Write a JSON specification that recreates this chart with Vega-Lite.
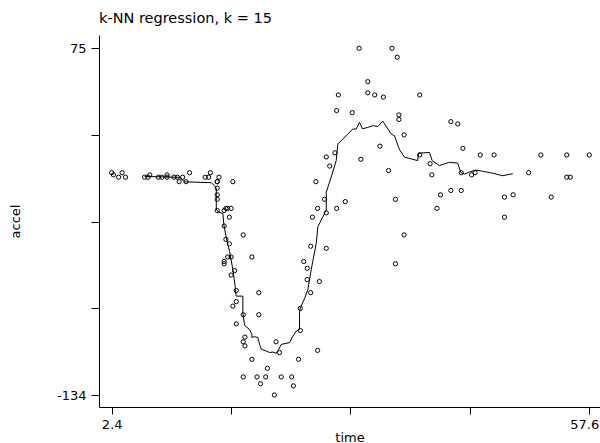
{
  "$schema": "https://vega.github.io/schema/vega-lite/v6.json",
  "width": 501,
  "height": 372,
  "autosize": {"type": "none"},
  "padding": {"left": 99, "top": 35, "right": 0, "bottom": 36},
  "background": "white",
  "title": {"text": "k-NN regression, k = 15", "anchor": "start", "frame": "group", "font": "DejaVu Sans", "fontSize": 14.5, "fontWeight": "normal", "color": "black", "baseline": "alphabetic", "offset": 12, "dy": 14},
  "config": {
    "view": {"stroke": null},
    "axis": {"grid": false, "domainColor": "black", "domainWidth": 1, "tickColor": "black", "tickWidth": 1, "labelColor": "black", "titleColor": "black", "labelFont": "DejaVu Sans", "titleFont": "DejaVu Sans", "labelFontSize": 13, "titleFontSize": 13, "titleFontWeight": "normal", "labelFlush": false, "labelOverlap": false}
  },
  "datasets": {
    "pts": [
      {"time": 2.4, "accel": 0.0}, {"time": 2.6, "accel": -1.3}, {"time": 3.2, "accel": -2.7}, {"time": 3.6, "accel": 0.0}, {"time": 4.0, "accel": -2.7},
      {"time": 6.2, "accel": -2.7}, {"time": 6.6, "accel": -2.7}, {"time": 6.8, "accel": -1.3}, {"time": 7.8, "accel": -2.7}, {"time": 8.2, "accel": -2.7},
      {"time": 8.8, "accel": -1.3}, {"time": 8.8, "accel": -2.7}, {"time": 9.6, "accel": -2.7}, {"time": 10.0, "accel": -2.7}, {"time": 10.2, "accel": -5.4},
      {"time": 10.6, "accel": -2.7}, {"time": 11.0, "accel": -5.4}, {"time": 11.4, "accel": 0.0}, {"time": 13.2, "accel": -2.7}, {"time": 13.6, "accel": -2.7},
      {"time": 13.8, "accel": 0.0}, {"time": 14.6, "accel": -13.3}, {"time": 14.6, "accel": -5.4}, {"time": 14.6, "accel": -5.4}, {"time": 14.6, "accel": -9.3},
      {"time": 14.6, "accel": -16.0}, {"time": 14.6, "accel": -22.8}, {"time": 14.8, "accel": -2.7}, {"time": 15.4, "accel": -22.8}, {"time": 15.4, "accel": -32.1},
      {"time": 15.4, "accel": -53.5}, {"time": 15.4, "accel": -54.9}, {"time": 15.6, "accel": -40.2}, {"time": 15.6, "accel": -21.5}, {"time": 15.8, "accel": -21.5},
      {"time": 15.8, "accel": -50.8}, {"time": 16.0, "accel": -42.9}, {"time": 16.0, "accel": -26.8}, {"time": 16.2, "accel": -21.5}, {"time": 16.2, "accel": -50.8},
      {"time": 16.2, "accel": -61.7}, {"time": 16.4, "accel": -5.4}, {"time": 16.4, "accel": -80.4}, {"time": 16.6, "accel": -59.0}, {"time": 16.8, "accel": -71.0},
      {"time": 16.8, "accel": -91.1}, {"time": 16.8, "accel": -77.7}, {"time": 17.6, "accel": -37.5}, {"time": 17.6, "accel": -85.6}, {"time": 17.6, "accel": -123.1},
      {"time": 17.6, "accel": -101.9}, {"time": 17.8, "accel": -99.1}, {"time": 17.8, "accel": -104.4}, {"time": 18.6, "accel": -112.5}, {"time": 18.6, "accel": -50.8},
      {"time": 19.2, "accel": -123.1}, {"time": 19.4, "accel": -85.6}, {"time": 19.4, "accel": -72.3}, {"time": 19.6, "accel": -127.2}, {"time": 20.2, "accel": -123.1},
      {"time": 20.4, "accel": -117.9}, {"time": 21.2, "accel": -134.0}, {"time": 21.4, "accel": -101.9}, {"time": 21.8, "accel": -108.4}, {"time": 22.0, "accel": -123.1},
      {"time": 23.2, "accel": -123.1}, {"time": 23.4, "accel": -128.5}, {"time": 24.0, "accel": -112.5}, {"time": 24.2, "accel": -95.1}, {"time": 24.2, "accel": -81.8},
      {"time": 24.6, "accel": -53.5}, {"time": 25.0, "accel": -64.4}, {"time": 25.0, "accel": -57.6}, {"time": 25.4, "accel": -72.3}, {"time": 25.4, "accel": -44.3},
      {"time": 25.6, "accel": -26.8}, {"time": 26.0, "accel": -5.4}, {"time": 26.2, "accel": -107.1}, {"time": 26.2, "accel": -21.5}, {"time": 26.4, "accel": -65.6},
      {"time": 27.0, "accel": -16.0}, {"time": 27.2, "accel": -45.6}, {"time": 27.2, "accel": -24.2}, {"time": 27.2, "accel": 9.5}, {"time": 27.6, "accel": 4.0},
      {"time": 28.2, "accel": 12.0}, {"time": 28.4, "accel": -21.5}, {"time": 28.4, "accel": 37.5}, {"time": 28.6, "accel": 46.9}, {"time": 29.4, "accel": -17.4},
      {"time": 30.2, "accel": 36.2}, {"time": 31.0, "accel": 75.0}, {"time": 31.2, "accel": 8.1}, {"time": 32.0, "accel": 54.9}, {"time": 32.0, "accel": 48.2},
      {"time": 32.8, "accel": 46.9}, {"time": 33.4, "accel": 16.0}, {"time": 33.8, "accel": 45.6}, {"time": 34.4, "accel": 1.3}, {"time": 34.8, "accel": 75.0},
      {"time": 35.2, "accel": -16.0}, {"time": 35.2, "accel": -54.9}, {"time": 35.4, "accel": 69.6}, {"time": 35.6, "accel": 34.8}, {"time": 35.6, "accel": 32.1},
      {"time": 36.2, "accel": -37.5}, {"time": 36.2, "accel": 22.8}, {"time": 38.0, "accel": 46.9}, {"time": 38.0, "accel": 10.7}, {"time": 39.2, "accel": 5.4},
      {"time": 39.4, "accel": -1.3}, {"time": 40.0, "accel": -21.5}, {"time": 40.4, "accel": -13.3}, {"time": 41.6, "accel": 30.8}, {"time": 41.6, "accel": -10.7},
      {"time": 42.4, "accel": 29.4}, {"time": 42.8, "accel": 0.0}, {"time": 42.8, "accel": -10.7}, {"time": 43.0, "accel": 14.7}, {"time": 44.0, "accel": -1.3},
      {"time": 44.4, "accel": 0.0}, {"time": 45.0, "accel": 10.7}, {"time": 46.6, "accel": 10.7}, {"time": 47.8, "accel": -26.8}, {"time": 47.8, "accel": -14.7},
      {"time": 48.8, "accel": -13.3}, {"time": 50.6, "accel": 0.0}, {"time": 52.0, "accel": 10.7}, {"time": 53.2, "accel": -14.7}, {"time": 55.0, "accel": -2.7},
      {"time": 55.0, "accel": 10.7}, {"time": 55.4, "accel": -2.7}, {"time": 57.6, "accel": 10.7}
    ],
    "fit": [
      {"i": 1, "time": 6.21, "accel": -2.2}, {"i": 2, "time": 10.25, "accel": -2.8}, {"i": 3, "time": 10.83, "accel": -5.5}, {"i": 4, "time": 13.91, "accel": -6.0},
      {"i": 5, "time": 14.30, "accel": -7.9}, {"i": 6, "time": 14.49, "accel": -9.4}, {"i": 7, "time": 14.49, "accel": -22.0}, {"i": 8, "time": 14.70, "accel": -23.6},
      {"i": 9, "time": 15.25, "accel": -24.6}, {"i": 10, "time": 15.37, "accel": -31.6}, {"i": 11, "time": 15.65, "accel": -39.4}, {"i": 12, "time": 16.03, "accel": -47.6},
      {"i": 13, "time": 16.41, "accel": -58.5}, {"i": 14, "time": 16.72, "accel": -70.5}, {"i": 15, "time": 16.78, "accel": -74.4}, {"i": 16, "time": 17.56, "accel": -74.4},
      {"i": 17, "time": 17.56, "accel": -84.5}, {"i": 18, "time": 17.76, "accel": -92.1}, {"i": 19, "time": 18.34, "accel": -94.5}, {"i": 20, "time": 18.60, "accel": -97.5},
      {"i": 21, "time": 18.60, "accel": -99.3}, {"i": 22, "time": 18.92, "accel": -98.8}, {"i": 23, "time": 19.30, "accel": -99.4}, {"i": 24, "time": 19.49, "accel": -103.5},
      {"i": 25, "time": 19.69, "accel": -106.4}, {"i": 26, "time": 20.27, "accel": -107.5}, {"i": 27, "time": 20.65, "accel": -108.4}, {"i": 28, "time": 21.03, "accel": -108.1},
      {"i": 29, "time": 21.42, "accel": -108.8}, {"i": 30, "time": 21.72, "accel": -106.4}, {"i": 31, "time": 22.00, "accel": -103.5}, {"i": 32, "time": 22.96, "accel": -102.4},
      {"i": 33, "time": 23.34, "accel": -98.5}, {"i": 34, "time": 23.73, "accel": -95.5}, {"i": 35, "time": 24.11, "accel": -94.5}, {"i": 36, "time": 24.11, "accel": -84.5},
      {"i": 37, "time": 24.19, "accel": -81.5}, {"i": 38, "time": 24.69, "accel": -75.9}, {"i": 39, "time": 25.07, "accel": -70.5}, {"i": 40, "time": 25.46, "accel": -58.5},
      {"i": 41, "time": 26.04, "accel": -42.6}, {"i": 42, "time": 26.23, "accel": -32.6}, {"i": 43, "time": 26.80, "accel": -26.6}, {"i": 44, "time": 27.20, "accel": -22.6},
      {"i": 45, "time": 27.20, "accel": -11.7}, {"i": 46, "time": 27.77, "accel": -2.7}, {"i": 47, "time": 28.35, "accel": 7.3}, {"i": 48, "time": 28.54, "accel": 17.3},
      {"i": 49, "time": 29.69, "accel": 23.3}, {"i": 50, "time": 30.27, "accel": 26.3}, {"i": 51, "time": 30.66, "accel": 26.3}, {"i": 52, "time": 31.04, "accel": 30.4},
      {"i": 53, "time": 31.39, "accel": 26.5}, {"i": 54, "time": 32.00, "accel": 27.3}, {"i": 55, "time": 32.58, "accel": 28.4}, {"i": 56, "time": 33.16, "accel": 27.8},
      {"i": 57, "time": 33.73, "accel": 31.1}, {"i": 58, "time": 34.70, "accel": 23.3}, {"i": 59, "time": 35.08, "accel": 22.3}, {"i": 60, "time": 35.66, "accel": 13.9},
      {"i": 61, "time": 36.24, "accel": 9.4}, {"i": 62, "time": 37.77, "accel": 7.3}, {"i": 63, "time": 37.86, "accel": 11.8}, {"i": 64, "time": 39.13, "accel": 12.2},
      {"i": 65, "time": 39.44, "accel": 7.3}, {"i": 66, "time": 40.28, "accel": 4.3}, {"i": 67, "time": 41.44, "accel": 6.3}, {"i": 68, "time": 42.39, "accel": 5.8},
      {"i": 69, "time": 42.76, "accel": 0.1}, {"i": 70, "time": 43.17, "accel": -0.8}, {"i": 71, "time": 43.74, "accel": 0.4}, {"i": 72, "time": 44.44, "accel": 1.6},
      {"i": 73, "time": 45.28, "accel": 0.9}, {"i": 74, "time": 46.44, "accel": -0.3}, {"i": 75, "time": 47.59, "accel": -1.8}, {"i": 76, "time": 48.75, "accel": -0.6}
    ]
  },
  "layer": [
    {
      "data": {"name": "pts"},
      "mark": {"type": "point", "shape": "circle", "filled": false, "stroke": "black", "strokeWidth": 1, "size": 18, "opacity": 1},
      "encoding": {
        "x": {"field": "time", "type": "quantitative", "scale": {"domain": [0.932, 58.84], "nice": false, "zero": false},
              "axis": {"title": "time", "values": [2.4, 16.2, 30, 43.8, 57.6], "labelExpr": "datum.value == 2.4 ? '2.4' : (datum.value == 57.6 ? '57.6' : '')", "labelOffset": {"condition": {"test": "datum.value == 57.6", "value": -5}, "value": 0}, "tickSize": 7, "labelPadding": 14, "labelBaseline": "alphabetic", "titleY": 34, "titleBaseline": "alphabetic"}},
        "y": {"field": "accel", "type": "quantitative", "scale": {"domain": [-141.23, 83.02], "nice": false, "zero": false},
              "axis": {"title": "accel", "values": [75, 22.75, -29.5, -81.75, -134], "labelExpr": "datum.value == 75 ? '75' : (datum.value == -134 ? '-134' : '')", "tickSize": 8, "labelPadding": 5, "labelAngle": 0, "labelAlign": "right", "labelBaseline": "middle", "titleX": -84, "titleBaseline": "middle"}}
      }
    },
    {
      "data": {"name": "fit"},
      "mark": {"type": "line", "color": "black", "strokeWidth": 1},
      "encoding": {
        "x": {"field": "time", "type": "quantitative"},
        "y": {"field": "accel", "type": "quantitative"},
        "order": {"field": "i", "type": "quantitative"}
      }
    }
  ]
}
